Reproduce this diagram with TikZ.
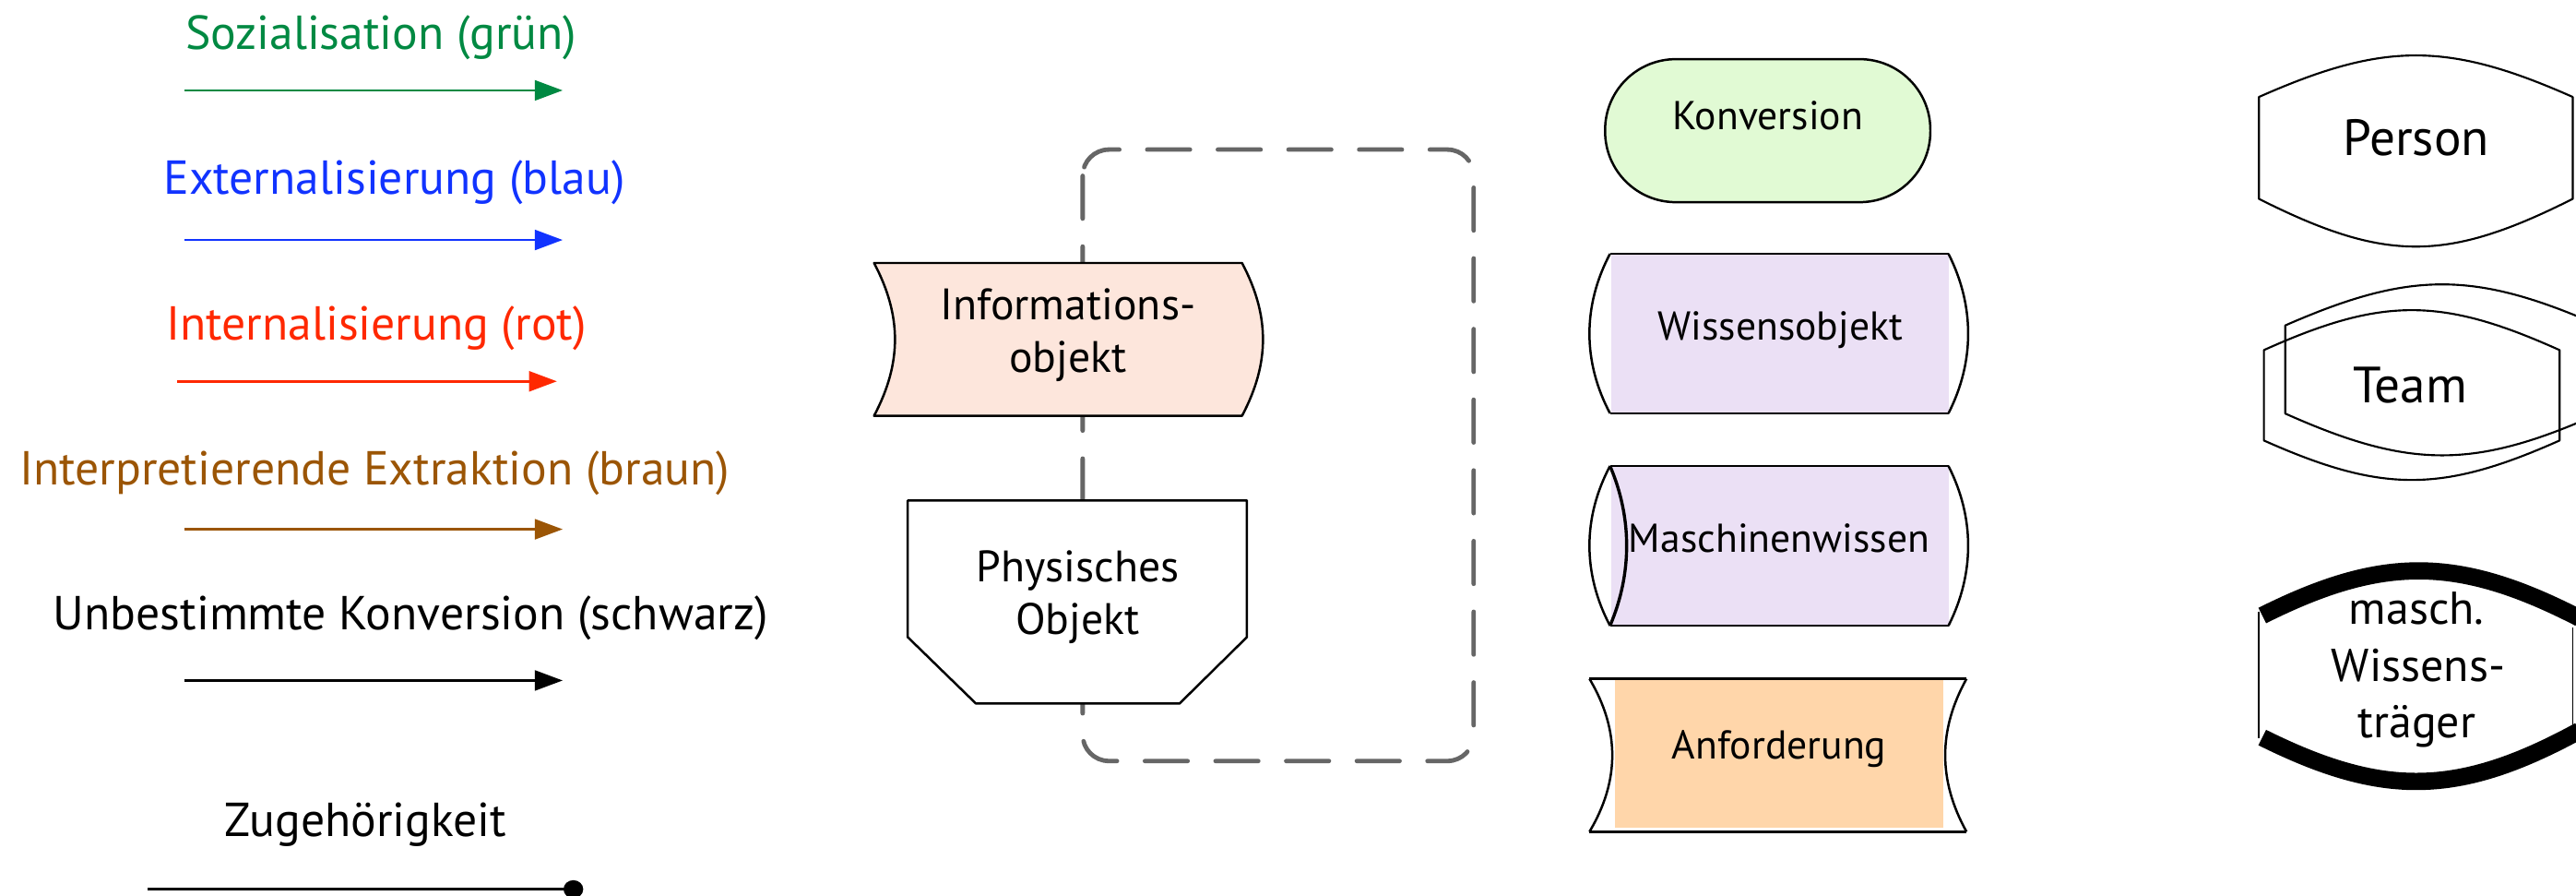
\documentclass[tikz,border=0pt]{standalone}
\usepackage{fontspec}
\setmainfont{PT Sans}
\usetikzlibrary{arrows.meta}
\definecolor{cgreen}{RGB}{0,137,66}
\definecolor{cblue}{RGB}{17,51,255}
\definecolor{cred}{RGB}{255,40,0}
\definecolor{cbrown}{RGB}{155,85,5}
\definecolor{infofill}{RGB}{253,230,220}
\definecolor{konvfill}{RGB}{225,250,212}
\definecolor{wissfill}{RGB}{235,224,245}
\definecolor{anffill}{RGB}{255,214,170}
\definecolor{dashgray}{RGB}{102,102,102}
\begin{document}
\begin{tikzpicture}[x=1pt,y=-1pt,
  legtext/.style={anchor=base,font=\fontsize{29}{34}\selectfont,inner sep=0pt},
  bodytext/.style={anchor=base,font=\fontsize{26.8}{32}\selectfont,inner sep=0pt},
  midtext/.style={anchor=base,font=\fontsize{24.5}{30}\selectfont,inner sep=0pt},
  bigtext/.style={anchor=base,font=\fontsize{31}{36}\selectfont,inner sep=0pt},
  legarrow/.style={line width=1.6pt,-{Triangle[length=17pt,width=12.2pt]}},
  outl/.style={line width=1.4pt,line join=round},
  thinl/.style={line width=0.8pt},
  heavyarc/.style={line width=10.5pt}
]
\useasboundingbox (0,0) rectangle (1568,545);
\clip (0,0) rectangle (1568,545);

% ---------- legend ----------
\node[legtext,text=cgreen] (tsoz) at (232,30) {Sozialisation (grün)};
\coordinate (s1) at (112,55); \coordinate (s2) at (342.5,55);
\draw[legarrow,cgreen] (s1) -- (s2);

\node[legtext,text=cblue] (text) at (240,118) {Externalisierung (blau)};
\coordinate (e1) at (112,146); \coordinate (e2) at (342.5,146);
\draw[legarrow,cblue] (e1) -- (e2);

\node[legtext,text=cred] (tint) at (229,207) {Internalisierung (rot)};
\coordinate (i1) at (108,232); \coordinate (i2) at (339,232);
\draw[legarrow,cred] (i1) -- (i2);

\node[legtext,text=cbrown] (tipe) at (228,295) {Interpretierende Extraktion (braun)};
\coordinate (b1) at (112,322); \coordinate (b2) at (342.5,322);
\draw[legarrow,cbrown] (b1) -- (b2);

\node[legtext] (tunb) at (250,383) {Unbestimmte Konversion (schwarz)};
\coordinate (u1) at (112,414); \coordinate (u2) at (342.5,414);
\draw[legarrow] (u1) -- (u2);

\node[legtext] (tzug) at (222.5,509) {Zugehörigkeit};
\coordinate (z1) at (90,541); \coordinate (z2) at (349,541);
\draw[line width=1.6pt] (z1) -- (z2);
\fill (z2) ellipse [x radius=6pt, y radius=5.5pt];

% ---------- dashed group ----------
\draw[dashgray,line width=2.7pt,line cap=round,dash pattern=on 26pt off 17pt,rounded corners=16pt]
  (659,91) rectangle (897,463);

% Informationsobjekt
\filldraw[fill=infofill,draw=black,outl]
  (532,160) -- (756,160) .. controls (773,192) and (773,221) .. (756,253)
  -- (532,253) .. controls (549,221) and (549,192) .. (532,160) -- cycle;
\node[bodytext] (tinfo1) at (650,194.5) {Informations-};
\node[bodytext] (tinfo2) at (650,226.4) {objekt};

% Physisches Objekt
\filldraw[fill=white,draw=black,outl]
  (552.5,304.5) -- (759,304.5) -- (759,387.6) -- (718,428) -- (594,428)
  -- (552.5,387.6) -- cycle;
\node[bodytext] (tphys1) at (656,354) {Physisches};
\node[bodytext] (tphys2) at (656,386) {Objekt};

% ---------- middle column ----------
% Konversion
\filldraw[fill=konvfill,draw=black,outl,rounded corners=43pt]
  (977,36) rectangle (1175,123);
\node[midtext] (tkonv) at (1076,78.6) {Konversion};

% Wissensobjekt
\fill[wissfill] (981,154.4) rectangle (1186,251.5);
\draw[thinl] (980,154.4) -- (1186,154.4);
\draw[thinl] (980,251.5) -- (1186,251.5);
\draw[outl] (980,154.4) .. controls (963.3,186) and (963.3,220) .. (980,251.5);
\draw[outl] (1186,154.4) .. controls (1202,186) and (1202,220) .. (1186,251.5);
\node[midtext] (twiss) at (1083.6,206.8) {Wissensobjekt};

% Maschinenwissen
\fill[wissfill] (981,283.5) rectangle (1186,380.7);
\draw[thinl] (980,283.5) -- (1186,283.5);
\draw[thinl] (980,380.7) -- (1186,380.7);
\draw[outl] (980,283.5) .. controls (963.3,315) and (963.3,349) .. (980,380.7);
\draw[line width=1.9pt] (980,283.5) .. controls (993.5,315) and (993.5,349) .. (980,380.7);
\draw[outl] (1186,283.5) .. controls (1202,315) and (1202,349) .. (1186,380.7);
\node[midtext] (tmasch) at (1083,336) {Maschinenwissen};

% Anforderung
\fill[anffill] (983,414) rectangle (1183,503.6);
\draw[outl] (967.5,413) -- (1197,413);
\draw[outl] (967.5,506) -- (1197,506);
\draw[outl] (967.5,413) .. controls (986,444) and (986,475) .. (967.5,506);
\draw[outl] (1197,413) .. controls (1179.7,444) and (1179.7,475) .. (1197,506);
\node[midtext] (tanf) at (1083,462) {Anforderung};

% ---------- right column ----------
% Person
\draw[outl,line width=1.2pt] (1375,59) .. controls (1451,25.3) and (1490,25.3) .. (1566,59)
  -- (1566,121) .. controls (1489,159.7) and (1452,159.7) .. (1375,121) -- cycle;
\node[bigtext] (tpers) at (1470.6,94.5) {Person};

% Team (back and front)
\draw[outl,line width=1.2pt] (1391,198) .. controls (1467,164.7) and (1506,164.7) .. (1582,198)
  -- (1582,251.6) .. controls (1506,285.5) and (1467,285.5) .. (1391,251.6) -- cycle;
\draw[outl,line width=1.2pt] (1378,213) .. controls (1450,180.6) and (1486,180.6) .. (1558,213)
  -- (1558,268) .. controls (1486,300) and (1450,300) .. (1378,268) -- cycle;
\node[bigtext] (tteam) at (1467,245) {Team};

% masch. Wissenstraeger
\draw[line width=1pt] (1375,372) -- (1375,449);
\draw[line width=1pt] (1566,382) -- (1566,443.6);
\draw[heavyarc] (1377,374.5) .. controls (1450,338) and (1496,338) .. (1570,376);
\draw[heavyarc] (1377,448.7) .. controls (1450,485) and (1496,485) .. (1570,444.6);
\node[bodytext,font=\fontsize{28}{33}\selectfont] (tmw1) at (1471,380) {masch.};
\node[bodytext,font=\fontsize{28}{33}\selectfont] (tmw2) at (1472,414.5) {Wissens-};
\node[bodytext,font=\fontsize{28}{33}\selectfont] (tmw3) at (1471,449) {träger};
\end{tikzpicture}
\end{document}
